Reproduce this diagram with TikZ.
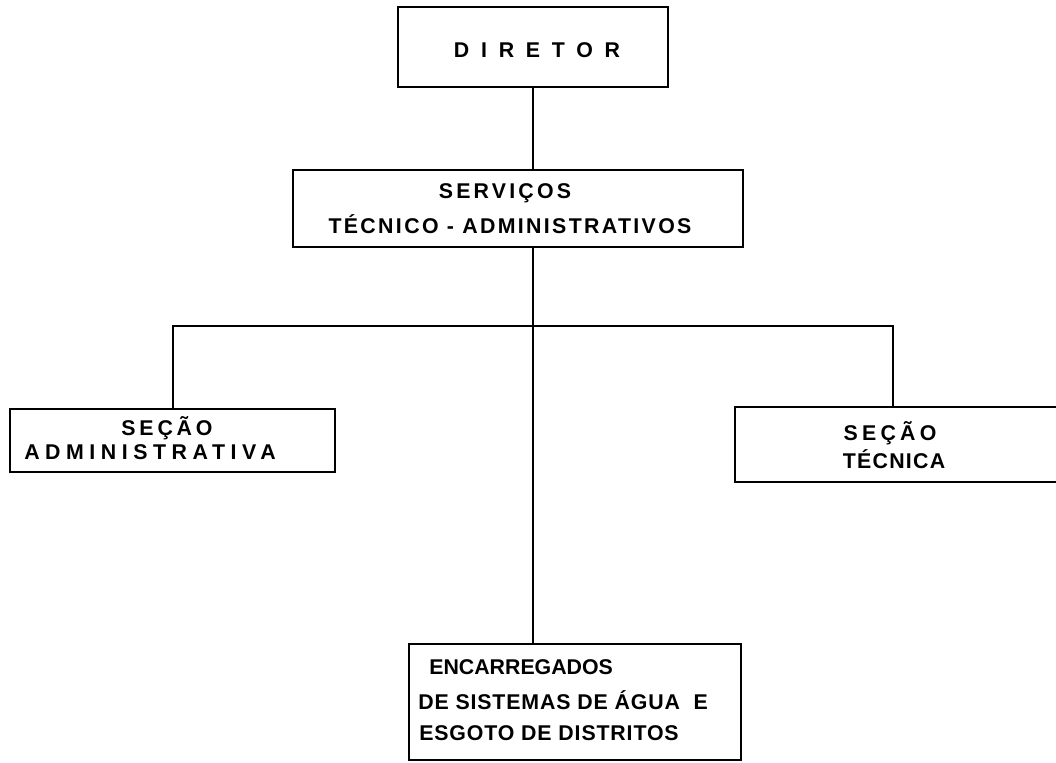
\documentclass[tikz,border=0pt]{standalone}
\usepackage{fontspec}
\setmainfont{Liberation Sans}
\usepackage{tikz}

\newcommand{\trk}[2]{{\addfontfeature{LetterSpace=#1}#2}}

\tikzset{
  box/.style={draw, line width=1.5pt, inner sep=0pt},
  lbl/.style={inner sep=0.75pt, font=\fontsize{16}{19}\selectfont\bfseries},
  link/.style={line width=1.5pt}
}

\begin{document}
\begin{tikzpicture}[x=0.75pt,y=0.75pt,yscale=-1,xscale=1]
        \useasboundingbox (0,0) rectangle (1056,763);

        \node [box, minimum width=202.5pt, minimum height=60pt] (dir) at (533,47) {};
        \node [box, minimum width=337.5pt, minimum height=57.75pt] (serv) at (518,208.5) {};
        \node [box, minimum width=243.75pt, minimum height=47.25pt] (adm) at (172.5,440.5) {};
        \node [box, minimum width=273.75pt, minimum height=56.25pt] (tec) at (917.5,444.5) {};
        \node [box, minimum width=249pt, minimum height=87pt] (enc) at (575,702) {};
        \coordinate (br) at (893,326);

        \draw [link] (dir.south) -- (dir.south |- serv.north);
        \draw [link] (dir.south |- serv.south) -- (dir.south |- enc.north);
        \draw [link] (adm.north) |- (br) -- (br |- tec.north);

        \draw (537,50) node [lbl] (tdir) {\trk{55}{DIRETOR}};
        \draw (505,193) node [lbl] (tserv1) {\trk{15}{SERVIÇOS}};
        \draw (510,224) node [lbl] (tserv2) {\trk{11}{TÉCNICO - ADMINISTRATIVOS}};
        \draw (167,428) node [lbl] (tadm1) {\trk{18}{SEÇÃO}};
        \draw (150,452) node [lbl] (tadm2) {\trk{26}{ADMINISTRATIVA}};
        \draw (890,433) node [lbl] (ttec1) {\trk{20}{SEÇÃO}};
        \draw (894,459) node [lbl] (ttec2) {\trk{6}{TÉCNICA}};
        \draw (428,667) node [lbl, anchor=west] (tenc1) {ENCARREGADOS};
        \draw (417,700) node [lbl, anchor=west] (tenc2) {\trk{4}{DE SISTEMAS DE ÁGUA\ \ E}};
        \draw (418,733) node [lbl, anchor=west] (tenc3) {\trk{4}{ESGOTO DE DISTRITOS}};
    \end{tikzpicture}
\end{document}
